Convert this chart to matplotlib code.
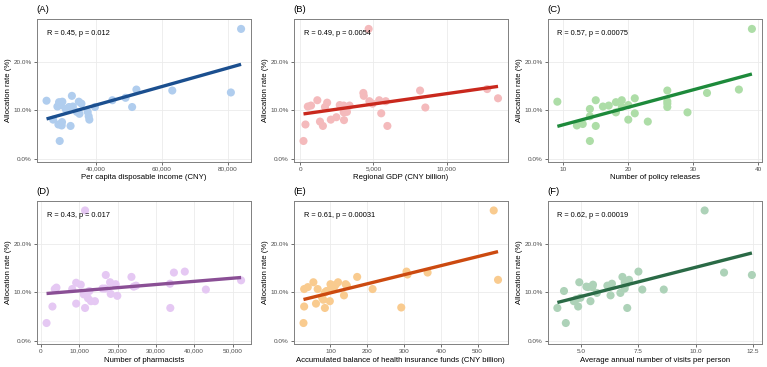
import matplotlib.pyplot as plt
import numpy as np
from matplotlib.ticker import FuncFormatter

plt.rcParams['font.family'] = ['Liberation Sans', 'DejaVu Sans']

# (A) per capita disposable income
income = [25000, 28300, 28800, 29800, 29300, 27000, 28600, 29600, 29700, 29000,
          32300, 32700, 30800, 31800, 33000, 34200, 34800, 35600, 35000, 37500,
          37800, 38000, 39700, 45000, 49000, 51000, 52300, 63200, 81000, 84100]
rate_a = [12.0, 10.8, 11.7, 11.8, 11.1, 8.1, 7.1, 6.9, 7.6, 3.7,
          6.8, 13.0, 10.3, 10.7, 10.8, 9.7, 11.8, 11.4, 9.3, 9.7,
          8.8, 8.1, 10.7, 12.1, 12.6, 10.7, 14.3, 14.1, 13.7, 26.8]

# (B) regional GDP
gdp = [225, 360, 520, 740, 1170, 1350, 1550, 1690, 1840, 2090,
       2470, 2700, 2970, 2970, 2990, 3190, 3370, 4310, 4340, 4670,
       4720, 4940, 5390, 5530, 5840, 5950, 8180, 8540, 12760, 13500]
rate_b = [3.7, 7.1, 10.8, 11.0, 12.1, 7.7, 6.8, 10.7, 11.6, 8.1,
          8.6, 11.1, 11.0, 9.6, 8.0, 9.7, 11.0, 13.6, 13.0, 26.8,
          11.9, 11.4, 12.1, 9.4, 11.9, 6.8, 14.1, 10.6, 14.4, 12.5]

# (C) policy releases
policies = [9.1, 12.1, 13.0, 14.1, 14.1, 14.1, 15.0, 15.0, 16.1, 17.0,
            18.1, 18.1, 19.0, 19.0, 20.0, 20.0, 21.0, 21.0, 23.0, 26.0,
            26.0, 26.0, 26.0, 29.1, 32.1, 37.0, 39.0]
rate_c = [11.8, 6.9, 7.2, 10.3, 8.8, 3.7, 12.1, 6.8, 10.8, 11.0,
          11.7, 9.6, 12.1, 10.7, 11.1, 8.1, 12.5, 9.4, 7.7, 14.1,
          11.9, 11.4, 10.7, 9.6, 13.6, 14.3, 26.8]

# (D) pharmacists
pharmacists = [1460, 3000, 3610, 4040, 8160, 9190, 9190, 10390, 11170, 11510,
               11510, 12280, 12630, 13060, 14090, 16060, 16750, 16920, 18040, 18210,
               19500, 19930, 23620, 24220, 24820, 33670, 33760, 34700, 37540, 43040,
               52230]
rate_d = [3.7, 7.1, 10.7, 11.0, 10.7, 12.0, 7.7, 11.6, 9.6, 6.8,
          26.9, 8.8, 10.3, 8.2, 8.2, 10.8, 10.8, 13.6, 12.1, 9.7,
          11.7, 9.3, 13.2, 11.2, 11.4, 11.8, 6.8, 14.1, 14.3, 10.6,
          12.5]

# (E) health insurance funds balance
funds = [26.6, 28.4, 28.4, 38.3, 53.5, 60.6, 65.1, 76.7, 80.3, 84.8,
         84.8, 89.3, 98.2, 100.0, 102.7, 108.9, 114.3, 120.6, 136.7, 141.2,
         144.7, 172.5, 214.5, 292.4, 306.7, 309.4, 364.0, 543.8, 555.5]
rate_e = [3.7, 7.1, 10.7, 11.1, 12.1, 7.7, 10.7, 9.0, 8.5, 6.8,
          10.0, 10.3, 8.2, 11.7, 11.2, 10.8, 11.6, 12.1, 9.4, 11.7,
          11.4, 13.2, 10.7, 6.9, 14.3, 13.7, 14.1, 26.9, 12.6]

# (F) visits per person
visits = [3.95, 4.24, 4.32, 4.67, 4.78, 4.86, 4.91, 4.96, 5.22, 5.29,
          5.40, 5.48, 5.51, 5.68, 6.14, 6.28, 6.34, 6.71, 6.80, 6.90,
          6.90, 6.98, 7.01, 7.09, 7.50, 7.67, 8.61, 10.40, 11.25, 12.47]
rate_f = [6.8, 10.3, 3.7, 8.2, 8.6, 7.1, 12.1, 8.9, 11.2, 11.1,
          8.2, 11.1, 11.6, 9.9, 11.4, 9.4, 11.8, 9.9, 13.2, 12.1,
          10.8, 11.8, 6.8, 12.6, 14.3, 10.6, 10.6, 26.9, 14.1, 13.6]

panels = [
    ('(A)', income, rate_a, 'Per capita disposable income (CNY)', 'R = 0.45, p = 0.012',
     '#b0cdee', '#1b4f8f', [40000, 60000, 80000], '{:,.0f}'),
    ('(B)', gdp, rate_b, 'Regional GDP (CNY billion)', 'R = 0.49, p = 0.0054',
     '#f4babc', '#c9281d', [0, 5000, 10000], '{:,.0f}'),
    ('(C)', policies, rate_c, 'Number of policy releases', 'R = 0.57, p = 0.00075',
     '#addda7', '#1d8a3b', [10, 20, 30, 40], '{:.0f}'),
    ('(D)', pharmacists, rate_d, 'Number of pharmacists', 'R = 0.43, p = 0.017',
     '#e5c8f3', '#8a4f95', [0, 10000, 20000, 30000, 40000, 50000], '{:,.0f}'),
    ('(E)', funds, rate_e, 'Accumulated balance of health insurance funds (CNY billion)',
     'R = 0.61, p = 0.00031', '#f9cb8f', '#cc4a10', [100, 200, 300, 400, 500], '{:.0f}'),
    ('(F)', visits, rate_f, 'Average annual number of visits per person', 'R = 0.62, p = 0.00019',
     '#add2b8', '#2a6a46', [5.0, 7.5, 10.0, 12.5], '{:.1f}'),
]

fig = plt.figure(figsize=(7.67, 3.67), dpi=100)
lefts = [0.048, 0.383, 0.714]
bottoms = [0.559, 0.063]
w, h = 0.279, 0.39

for i, (tag, x, y, xlabel, stat, pcol, lcol, xt, fmt) in enumerate(panels):
    ax = fig.add_axes([lefts[i % 3], bottoms[i // 3], w, h])
    x = np.array(x, dtype=float)
    y = np.array(y, dtype=float)
    ax.grid(True, color='#ebebeb', lw=0.6, zorder=0)
    ax.set_axisbelow(True)
    ax.scatter(x, y, s=34, color=pcol, edgecolors='none', zorder=2)
    k, b = np.polyfit(x, y, 1)
    xs = np.array([x.min(), x.max()])
    ax.plot(xs, k * xs + b, color=lcol, lw=2.4, zorder=3, solid_capstyle='butt')
    ax.set_ylim(-0.6, 28.9)
    ax.set_yticks([0, 10, 20])
    ax.yaxis.set_major_formatter(FuncFormatter(lambda v, p: '{:.1f}%'.format(v)))
    ax.set_xticks(xt)
    ax.xaxis.set_major_formatter(FuncFormatter(lambda v, p, f=fmt: f.format(v)))
    ax.margins(x=0.05)
    ax.tick_params(labelsize=4.6, labelcolor='#4d4d4d', length=2, width=0.5,
                   color='#333333', pad=1.5)
    for sp in ax.spines.values():
        sp.set_color('#808080')
        sp.set_linewidth(0.7)
    ax.set_xlabel(xlabel, fontsize=5.6, labelpad=2)
    ax.set_ylabel('Allocation rate (%)', fontsize=5.6, labelpad=0.8)
    ax.text(0.046, 0.895, stat, transform=ax.transAxes, fontsize=5.3, va='center')
    ax.text(0.0, 1.035, tag, transform=ax.transAxes, fontsize=6.8, va='bottom')

fig.savefig('out.png', dpi=100)
